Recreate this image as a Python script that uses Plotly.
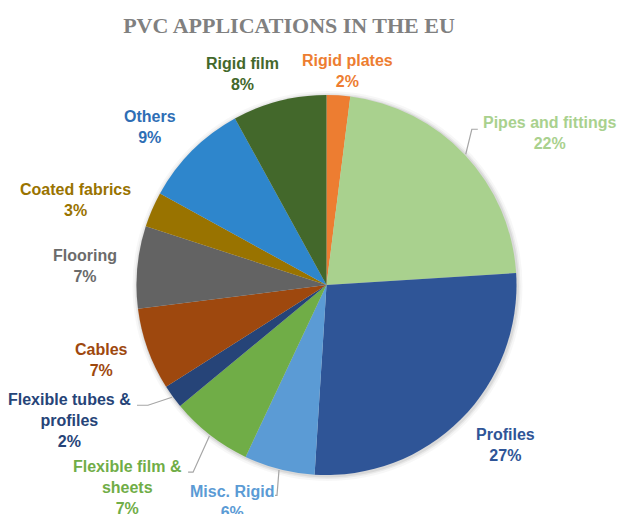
import math
import plotly.graph_objects as go

# ---- data ----
categories = ["Rigid plates", "Pipes and fittings", "Profiles", "Misc. Rigid",
              "Flexible film &<br>sheets", "Flexible tubes &<br>profiles", "Cables",
              "Flooring", "Coated fabrics", "Others", "Rigid film"]
shares = [2, 22, 27, 6, 7, 2, 7, 7, 3, 9, 8]

# ---- style ----
slice_colors = ["#ED7D31", "#A9D18E", "#2F5597", "#5B9BD5", "#70AD47", "#264478",
                "#9E480E", "#636363", "#997300", "#2E86CC", "#43682B"]
label_colors = ["#ED7D31", "#A9D18E", "#2F5597", "#5B9BD5", "#70AD47", "#264478",
                "#9E480E", "#6B6B6B", "#997300", "#2E6EB5", "#43682B"]
# label placement: radius (px) and angle nudge (deg) relative to slice mid-angle
label_radius = [215, 270, 240, 237, 284, 290, 237, 242, 265, 237, 227]
label_nudge = [2.1, 9.0, -3.3, 9.1, 6.8, 8.2, 1.3, -0.9, -4.7, -3.2, -7.4]
# leader lines: index -> (elbow dx, elbow dy, end dx) relative to label centre
leaders = {1: (-78, -4, -72), 3: (45, -7, 43), 4: (66, -15, 61), 5: (78, -15, 67)}

W, H = 620, 514
CX, CY, R = 326.5, 285.0, 190.0

def px(x):
    return x / W

def py(y):
    return 1 - y / H

fig = go.Figure()
fig.add_trace(go.Pie(
    labels=categories, values=shares, sort=False, direction="clockwise",
    rotation=0, marker=dict(colors=slice_colors, line=dict(width=0)),
    textinfo="none", hoverinfo="label+percent", showlegend=False,
    domain=dict(x=[px(CX - R), px(CX + R)], y=[py(CY + R), py(CY - R)]),
))

annotations = []
shapes = []
# soft shadow
for k, a in [(5, 0.03), (3, 0.05), (1.5, 0.07)]:
    shapes.append(dict(type="circle", xref="paper", yref="paper", layer="below",
                       x0=px(CX - R - k + 1), x1=px(CX + R + k + 1),
                       y0=py(CY + R + k + 1), y1=py(CY - R - k + 1),
                       fillcolor=f"rgba(0,0,0,{a})", line=dict(width=0)))

total = sum(shares)
cum = 0
for i, (name, v) in enumerate(zip(categories, shares)):
    mid = (cum + v / 2) / total * 360
    cum += v
    ang = math.radians(mid + label_nudge[i])
    lx = CX + label_radius[i] * math.sin(ang)
    ly = CY - label_radius[i] * math.cos(ang)
    pct = round(v / total * 100)
    annotations.append(dict(
        x=px(lx), y=py(ly), xref="paper", yref="paper", showarrow=False,
        text=f"{name}<br>{pct}%", align="center",
        font=dict(family="Liberation Sans", size=16, color=label_colors[i], weight="bold"),
        xanchor="center", yanchor="middle"))
    if i in leaders:
        ex, ey, endx = leaders[i]
        m = math.radians(mid)
        tx = CX + (R + 1) * math.sin(m)
        ty = CY - (R + 1) * math.cos(m)
        path = (f"M {px(tx)} {py(ty)} L {px(lx + ex)} {py(ly + ey)} "
                f"L {px(lx + endx)} {py(ly + ey)}")
        shapes.append(dict(type="path", xref="paper", yref="paper", path=path,
                           line=dict(color="#A6A6A6", width=1.2)))

fig.update_layout(
    width=W, height=H, margin=dict(l=0, r=0, t=0, b=0),
    paper_bgcolor="white", plot_bgcolor="white",
    title=dict(text="PVC APPLICATIONS IN THE EU", x=px(289), xanchor="center",
               y=py(25), yanchor="middle",
               font=dict(family="Liberation Serif", size=22, color="#808080", weight="bold")),
    annotations=annotations, shapes=shapes,
)

fig.write_html("out.html", config={"displayModeBar": False},
               post_script="document.body.style.margin='0';")
